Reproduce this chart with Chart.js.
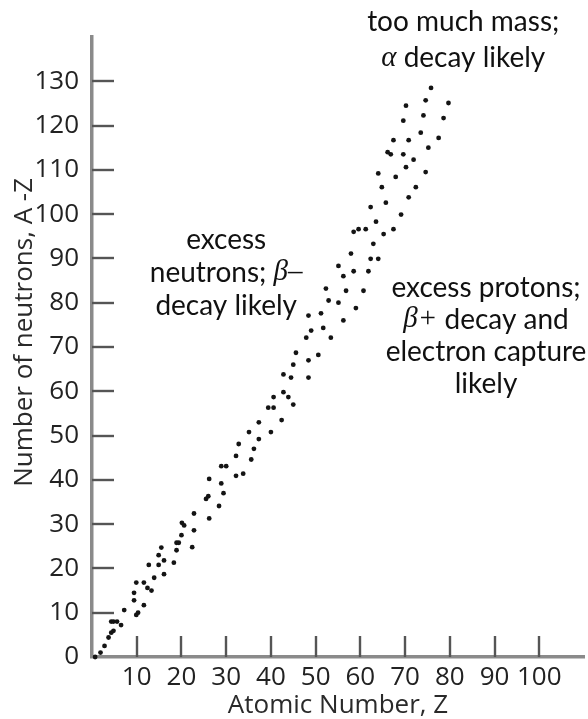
<!DOCTYPE html>
<html><head><meta charset="utf-8">
<script src="https://cdn.jsdelivr.net/npm/chart.js@4/dist/chart.umd.min.js"></script>
<style>html,body{margin:0;padding:0;background:#fff;}#wrap{width:588px;height:719px;position:relative;}</style>
</head><body><div id="wrap"><canvas id="c" width="588" height="719"></canvas></div>
<script>
// ---- data ----
const atomicNumber = [
 0.7,1.9,2.8,3.7,4.3,4.8,4.3,4.8,5.6,6.5,7.2,9.9,10.3,11.6,9.4,9.4,9.9,11.6,12.4,13.3,12.7,13.9,14.9,14.9,16.1,16.1,15.5,18.3,18.9,18.9,19.4,20.0,22.4,
 20.1,20.6,22.8,22.8,26.2,28.4,25.5,26.0,29.4,26.2,28.9,28.9,30.0,32.2,33.8,32.2,35.6,32.8,36.2,35.1,37.3,40.0,37.3,42.4,
 39.4,40.6,40.6,42.8,43.9,45.0,42.8,44.5,48.4,45.0,48.4,50.6,45.6,47.9,49.0,51.7,53.4,48.4,51.2,56.2,
 52.3,52.9,55.1,59.0,56.8,60.7,56.2,55.1,58.5,61.8,57.9,62.3,64.0,62.9,58.5,59.6,61.2,65.2,67.4,63.5,69.1,62.3,65.7,
 70.8,64.8,72.4,64.0,67.9,74.6,70.2,71.9,66.1,66.8,69.6,75.2,67.4,70.8,77.5,73.5,69.6,74.1,78.6,70.2,74.6,79.7,75.8
];
const neutronCount = [
 0,1.0,2.5,4.4,5.5,5.9,8.0,8.0,8.0,7.2,10.6,9.5,10.0,11.7,12.8,14.5,16.8,16.8,15.6,15.0,20.8,17.9,20.8,23.0,21.8,18.7,24.7,21.3,24.1,25.8,25.8,27.5,24.8,
 30.3,29.7,32.4,28.6,31.3,34.1,35.7,36.3,37.0,40.2,39.2,43.1,43.1,40.9,41.4,45.4,44.6,48.1,47.0,50.8,49.2,50.8,53.0,53.5,
 56.3,56.3,58.7,59.8,58.7,57.0,63.8,63.1,63.1,66.0,67.0,68.2,68.7,72.1,73.7,74.3,72.1,77.1,77.6,76.0,
 83.2,80.5,80.0,78.8,82.7,82.7,86.0,88.3,87.1,87.1,91.1,89.9,89.9,93.3,96.0,96.6,96.6,95.5,96.6,98.3,99.9,101.6,102.6,
 103.8,106.1,106.1,109.2,108.4,109.5,110.6,112.3,114.0,113.5,113.5,115.0,116.7,116.7,117.2,118.4,121.1,122.3,121.7,124.5,125.7,125.1,128.5
];
const xTickValues = [10,20,30,40,50,60,70,80,90,100];
const yTickValues = [0,10,20,30,40,50,60,70,80,90,100,110,120,130];
const xAxisTitle = 'Atomic Number, Z';
const yAxisTitle = 'Number of neutrons, A -Z';
const noteTop = ['too much mass;', '\u03B1 decay likely'];
const noteLeft = ['excess', 'neutrons; \u03B2\u2013', 'decay likely'];
const noteRight = ['excess protons;', '\u03B2+ decay and', 'electron capture', 'likely'];

// ---- presentation ----
const AXIS_FONT = '"Open Sans", "Noto Sans", sans-serif';
const NOTE_FONT = 'Lato, "Open Sans", sans-serif';
const MATH_FONT = '"Liberation Serif", "DejaVu Serif", serif';
const notes = [
  {lines: noteTop,   z: 83.0, n: 143.4, gap: 36},
  {lines: noteLeft,  z: 30.0, n: 94.2,  gap: 33},
  {lines: noteRight, z: 88.1, n: 83.4,  gap: 32}
];

const points = atomicNumber.map((z, i) => ({x: z, y: neutronCount[i]}));

const axisDecor = {
  id: 'axisDecor',
  beforeDatasetsDraw(chart) {
    const {ctx, scales: {x, y}} = chart;
    const y0 = y.getPixelForValue(0), x0 = x.getPixelForValue(0);
    ctx.save();
    ctx.strokeStyle = '#555';
    ctx.lineWidth = 2.4;
    xTickValues.forEach(v => {
      const px = Math.round(x.getPixelForValue(v));
      ctx.beginPath(); ctx.moveTo(px, y0); ctx.lineTo(px, y0 - 21); ctx.stroke();
    });
    yTickValues.filter(v => v > 0).forEach(v => {
      const py = Math.round(y.getPixelForValue(v));
      ctx.beginPath(); ctx.moveTo(x0, py); ctx.lineTo(x0 + 22, py); ctx.stroke();
    });
    // y axis title
    ctx.fillStyle = '#2a2a2a';
    ctx.font = '26px ' + AXIS_FONT;
    ctx.textAlign = 'center';
    ctx.textBaseline = 'middle';
    ctx.translate(25, y.getPixelForValue(73.3));
    ctx.rotate(-Math.PI / 2);
    ctx.fillText(yAxisTitle, 0, 0);
    ctx.restore();
  },
  afterDraw(chart) {
    const {ctx, scales: {x, y}} = chart;
    ctx.save();
    ctx.fillStyle = '#111';
    ctx.textBaseline = 'middle';
    ctx.textAlign = 'left';
    const size = 28;
    notes.forEach(note => {
      const cx = x.getPixelForValue(note.z);
      let cy = y.getPixelForValue(note.n);
      note.lines.forEach(line => {
        const parts = line.split(/([\u03B1\u03B2][+\u2013]?)/).filter(s => s.length);
        const segs = parts.map(s => ({t: s, math: /^[\u03B1\u03B2]/.test(s)}));
        let w = 0;
        segs.forEach(s => {
          ctx.font = s.math ? ('italic ' + (size + 1) + 'px ' + MATH_FONT) : (size + 'px ' + NOTE_FONT);
          s.w = ctx.measureText(s.t).width; w += s.w;
        });
        let px = cx - w / 2;
        segs.forEach(s => {
          ctx.font = s.math ? ('italic ' + (size + 1) + 'px ' + MATH_FONT) : (size + 'px ' + NOTE_FONT);
          ctx.fillText(s.t, px, cy);
          px += s.w;
        });
        cy += note.gap;
      });
    });
    ctx.restore();
  }
};

new Chart(document.getElementById('c'), {
  type: 'scatter',
  data: {datasets: [{
    data: points,
    pointRadius: 2.4,
    pointHoverRadius: 2.4,
    pointBackgroundColor: '#141414',
    pointBorderWidth: 0,
    clip: false
  }]},
  options: {
    responsive: false,
    animation: false,
    events: [],
    layout: {padding: {top: 37, right: 4, left: 0, bottom: 0}},
    plugins: {legend: {display: false}, tooltip: {enabled: false}},
    scales: {
      x: {
        type: 'linear', min: 0, max: 110,
        grid: {display: false},
        border: {display: true, color: '#8a8a8a', width: 3.5},
        ticks: {
          stepSize: 10, padding: 0, color: '#222', maxRotation: 0, autoSkip: false,
          font: {family: AXIS_FONT, size: 26, lineHeight: 1},
          callback: v => xTickValues.includes(v) ? String(v) : ''
        },
        title: {display: true, text: xAxisTitle, color: '#2a2a2a',
          font: {family: AXIS_FONT, size: 26, lineHeight: 1}, padding: {top: 0, bottom: 0}},
        afterFit: s => { s.height = 62; }
      },
      y: {
        type: 'linear', min: 0, max: 140,
        grid: {display: false},
        border: {display: true, color: '#8a8a8a', width: 3.5},
        ticks: {
          stepSize: 10, padding: 5, color: '#222', autoSkip: false,
          font: {family: AXIS_FONT, size: 26},
          callback: v => yTickValues.includes(v) ? String(v) : ''
        },
        afterFit: s => { s.width = 92; }
      }
    }
  },
  plugins: [axisDecor]
});
</script></body></html>
